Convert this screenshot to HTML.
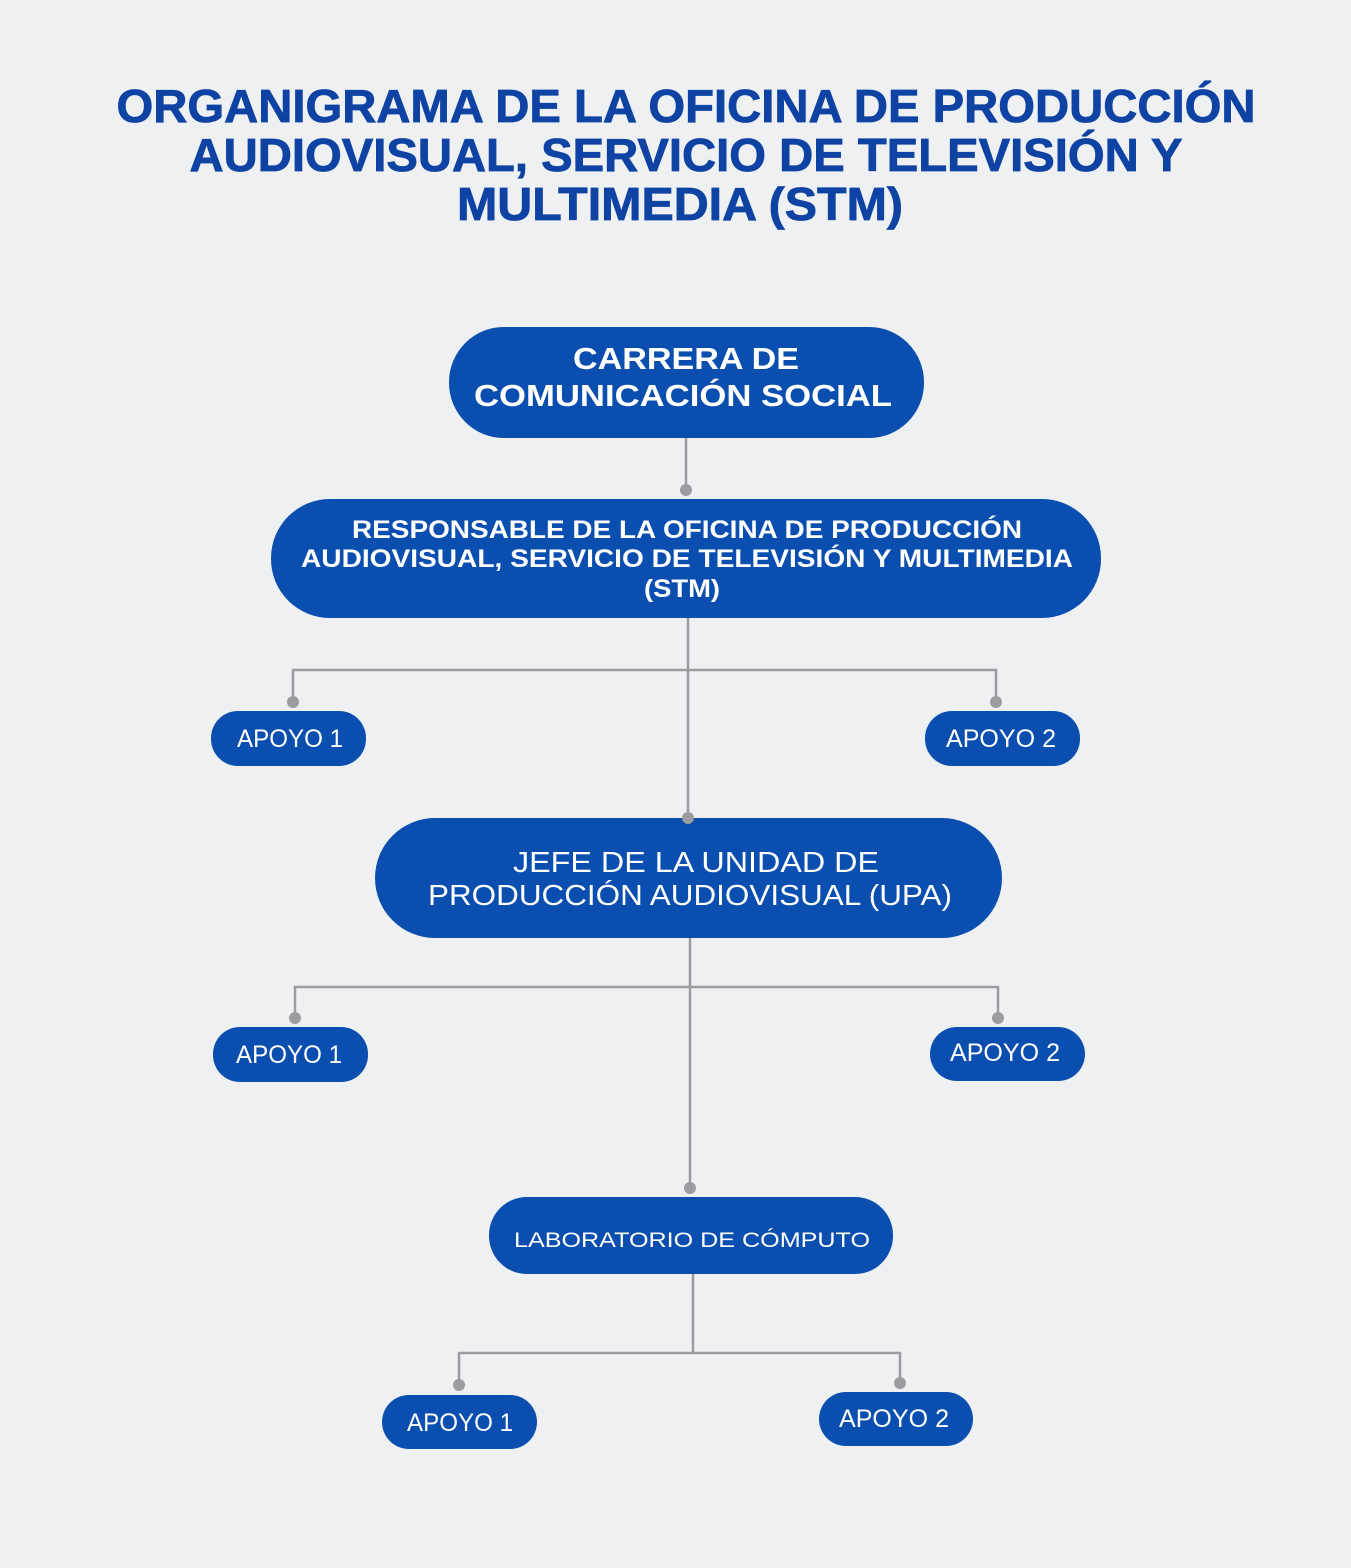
<!DOCTYPE html>
<html><head><meta charset="utf-8"><style>
html,body{margin:0;padding:0;background:#eef0f2;}
svg{display:block}
</style></head><body>
<svg width="1351" height="1568" viewBox="0 0 1351 1568" xmlns="http://www.w3.org/2000/svg">
<rect width="1351" height="1568" fill="#eef0f2"/>
<g font-family="Liberation Sans, sans-serif" font-weight="bold" fill="#0e43a3" text-anchor="middle" font-size="46" stroke="#0e43a3" stroke-width="0.8">
<text x="686" y="122" textLength="1139" lengthAdjust="spacingAndGlyphs">ORGANIGRAMA DE LA OFICINA DE PRODUCCIÓN</text>
<text x="686" y="171" textLength="993" lengthAdjust="spacingAndGlyphs">AUDIOVISUAL, SERVICIO DE TELEVISIÓN Y</text>
<text x="680" y="220" textLength="446" lengthAdjust="spacingAndGlyphs">MULTIMEDIA (STM)</text>
</g>
<g stroke="#9a9c9f" stroke-width="2.5" fill="none">
<path d="M686 438V490"/>
<path d="M688 618V818"/>
<path d="M293 702V670H996V702"/>
<path d="M690 938V1188"/>
<path d="M295 1018V987H998V1018"/>
<path d="M693 1274V1353"/>
<path d="M459 1385V1353H900V1383"/>
</g>
<g fill="#0a4fb0">
<rect x="449" y="327" width="475" height="111" rx="55"/>
<rect x="271" y="499" width="830" height="119" rx="59"/>
<rect x="211" y="711" width="155" height="55" rx="27"/>
<rect x="925" y="711" width="155" height="55" rx="27"/>
<rect x="375" y="818" width="627" height="120" rx="60"/>
<rect x="213" y="1027" width="155" height="55" rx="27"/>
<rect x="930" y="1027" width="155" height="54" rx="27"/>
<rect x="489" y="1197" width="404" height="77" rx="38"/>
<rect x="382" y="1395" width="155" height="54" rx="27"/>
<rect x="819" y="1392" width="154" height="54" rx="27"/>
</g>
<g fill="#9a9c9f">
<circle cx="686" cy="490" r="6"/><circle cx="688" cy="818" r="6"/>
<circle cx="293" cy="702" r="6"/><circle cx="996" cy="702" r="6"/>
<circle cx="690" cy="1188" r="6"/>
<circle cx="295" cy="1018" r="6"/><circle cx="998" cy="1018" r="6"/>
<circle cx="459" cy="1385" r="6"/><circle cx="900" cy="1383" r="6"/>
</g>
<g font-family="Liberation Sans, sans-serif" fill="#fff" text-anchor="middle">
<g font-weight="bold" font-size="31">
<text x="686" y="369" textLength="226" lengthAdjust="spacingAndGlyphs">CARRERA DE</text>
<text x="683" y="406" textLength="418" lengthAdjust="spacingAndGlyphs">COMUNICACIÓN SOCIAL</text>
</g>
<g font-weight="bold" font-size="25">
<text x="687" y="538" textLength="670" lengthAdjust="spacingAndGlyphs">RESPONSABLE DE LA OFICINA DE PRODUCCIÓN</text>
<text x="687" y="567" textLength="772" lengthAdjust="spacingAndGlyphs">AUDIOVISUAL, SERVICIO DE TELEVISIÓN Y MULTIMEDIA</text>
<text x="682" y="597" textLength="76" lengthAdjust="spacingAndGlyphs">(STM)</text>
</g>
<g font-size="29">
<text x="696" y="872" textLength="366" lengthAdjust="spacingAndGlyphs">JEFE DE LA UNIDAD DE</text>
<text x="690" y="905" textLength="524" lengthAdjust="spacingAndGlyphs">PRODUCCIÓN AUDIOVISUAL (UPA)</text>
</g>
<text x="692" y="1247" font-size="21" textLength="356" lengthAdjust="spacingAndGlyphs">LABORATORIO DE CÓMPUTO</text>
<g font-size="25">
<text x="290" y="747" textLength="106" lengthAdjust="spacingAndGlyphs">APOYO 1</text>
<text x="1001" y="747" textLength="110" lengthAdjust="spacingAndGlyphs">APOYO 2</text>
<text x="289" y="1063" textLength="106" lengthAdjust="spacingAndGlyphs">APOYO 1</text>
<text x="1005" y="1061" textLength="110" lengthAdjust="spacingAndGlyphs">APOYO 2</text>
<text x="460" y="1431" textLength="106" lengthAdjust="spacingAndGlyphs">APOYO 1</text>
<text x="894" y="1427" textLength="110" lengthAdjust="spacingAndGlyphs">APOYO 2</text>
</g>
</g>
</svg>
</body></html>
